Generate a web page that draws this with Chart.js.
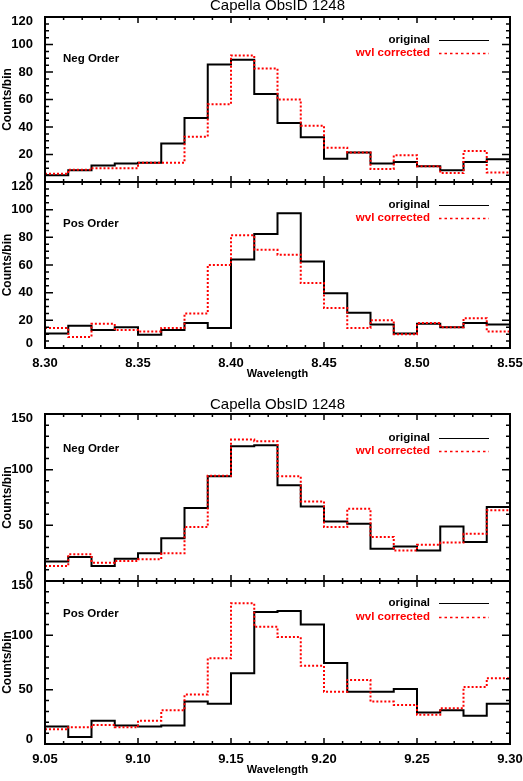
<!DOCTYPE html>
<html>
<head>
<meta charset="utf-8">
<script src="https://cdn.jsdelivr.net/npm/chart.js@4.4.1/dist/chart.umd.min.js"></script>
<style>
  body { margin: 0; background: #fff; }
  canvas { position: absolute; left: 0; top: 0; }
</style>
</head>
<body>
<canvas id="p1" width="523" height="781"></canvas>
<canvas id="p2" width="523" height="781"></canvas>
<canvas id="p3" width="523" height="781"></canvas>
<canvas id="p4" width="523" height="781"></canvas>
<script>
// bin edges (last value = right edge of last bin)
const edgesA = [8.3000, 8.3125, 8.3250, 8.3375, 8.3500, 8.3625, 8.3750, 8.3875, 8.4000, 8.4125,
                8.4250, 8.4375, 8.4500, 8.4625, 8.4750, 8.4875, 8.5000, 8.5125, 8.5250, 8.5375, 8.5500];
const edgesB = [9.0500, 9.0625, 9.0750, 9.0875, 9.1000, 9.1125, 9.1250, 9.1375, 9.1500, 9.1625,
                9.1750, 9.1875, 9.2000, 9.2125, 9.2250, 9.2375, 9.2500, 9.2625, 9.2750, 9.2875, 9.3000];

// counts per bin, top figure (8.30 - 8.55)
const negOrigA = [5, 8.5, 12, 13.5, 14, 28, 46.5, 85.5, 89, 64, 43, 32.5, 17, 21.5, 13.5, 14.5, 11.5, 8.5, 14.5, 16.5];
const negCorrA = [6, 9, 10, 10, 14, 14, 33, 56.5, 92, 82.5, 60, 41, 25, 21.5, 9.5, 19.5, 11.5, 6.5, 22.5, 7];
const posOrigA = [10.5, 16, 13, 15, 9.5, 13, 18, 14.5, 64, 82.5, 97.5, 62.5, 39.5, 25.5, 17, 10.5, 17.5, 15, 18, 17];
const posCorrA = [14.5, 8, 17.5, 13, 12, 14.5, 25, 60, 81.5, 71, 67.5, 47, 29, 14.5, 20, 10, 18, 15, 21.5, 12];

// counts per bin, bottom figure (9.05 - 9.30)
const negOrigB = [17.5, 21.5, 13.5, 20, 25, 38.5, 65.5, 94, 121, 122, 86, 67, 53.5, 51.5, 29, 31, 27.5, 49, 35, 66.5];
const negCorrB = [13.5, 24, 16.5, 18, 19.5, 25, 48.5, 94.5, 127, 125.5, 94, 71.5, 48.5, 65, 39.5, 27.5, 32.5, 34.5, 42.5, 63.5];
const posOrigB = [16, 6.5, 21.5, 17, 16, 17, 39, 37, 65, 121.5, 122.5, 110, 74.5, 48, 48, 50.5, 29, 31, 26, 37];
const posCorrB = [13.5, 15.5, 17.5, 15.5, 21.5, 31, 45.5, 79, 129.5, 108, 98.5, 72, 48, 59, 39, 36, 27, 33, 52.5, 60.5];

const titleText = 'Capella ObsID 1248';
const legendNames = ['original', 'wvl corrected'];
const FONT = 'Liberation Sans';
const RED = 'rgb(255,0,0)';

Chart.defaults.font.family = FONT;
Chart.defaults.color = '#000';

const panels = [
  { id: 'p1', edges: edgesA, orig: negOrigA, corr: negCorrA, ymax: 120, ymaj: 20, ymin: 5,
    top: 17, bottom: 182, xlab: false, title: 6, name: 'Neg Order', nameY: 59, legY: [40, 53] },
  { id: 'p2', edges: edgesA, orig: posOrigA, corr: posCorrA, ymax: 120, ymaj: 20, ymin: 5,
    top: 182, bottom: 348, xlab: true, title: null, name: 'Pos Order', nameY: 224, legY: [205, 218] },
  { id: 'p3', edges: edgesB, orig: negOrigB, corr: negCorrB, ymax: 150, ymaj: 50, ymin: 10,
    top: 414, bottom: 581, xlab: false, title: 405, name: 'Neg Order', nameY: 449, legY: [438, 451] },
  { id: 'p4', edges: edgesB, orig: posOrigB, corr: posCorrB, ymax: 150, ymaj: 50, ymin: 10,
    top: 581, bottom: 744, xlab: true, title: null, name: 'Pos Order', nameY: 614, legY: [603, 617] }
];

function steps(edges, vals) {
  return edges.map((x, i) => ({ x: x, y: vals[Math.min(i, vals.length - 1)] }));
}

// frame, inward ticks, title, panel name and legend
const decor = {
  id: 'decor',
  afterDatasetsDraw(chart, args, o) {
    const ctx = chart.ctx;
    const a = chart.chartArea;
    const xs = chart.scales.x, ys = chart.scales.y;
    ctx.save();
    ctx.setLineDash([]);
    ctx.strokeStyle = '#000';
    ctx.lineWidth = 2;
    ctx.strokeRect(a.left, a.top, a.right - a.left, a.bottom - a.top);

    ctx.lineWidth = 1.5;
    ctx.beginPath();
    const xmin = xs.min;
    for (let k = 0; k <= 25; k++) {
      const px = xs.getPixelForValue(xmin + k * 0.01);
      const len = (k % 5 === 0) ? 6 : 3;
      ctx.moveTo(px, a.bottom); ctx.lineTo(px, a.bottom - len);
      ctx.moveTo(px, a.top); ctx.lineTo(px, a.top + len);
    }
    for (let v = 0; v <= o.ymax; v += o.ymin) {
      const py = ys.getPixelForValue(v);
      const len = (v % o.ymaj === 0) ? 8 : 4;
      ctx.moveTo(a.left, py); ctx.lineTo(a.left + len, py);
      ctx.moveTo(a.right, py); ctx.lineTo(a.right - len, py);
    }
    ctx.stroke();

    ctx.textBaseline = 'middle';
    if (o.title !== null) {
      ctx.font = '15px ' + FONT;
      ctx.fillStyle = '#000';
      ctx.textAlign = 'center';
      ctx.fillText(titleText, (a.left + a.right) / 2, o.title);
    }
    ctx.font = 'bold 11.5px ' + FONT;
    ctx.fillStyle = '#000';
    ctx.textAlign = 'left';
    ctx.fillText(o.name, 63, o.nameY);

    ctx.textAlign = 'right';
    ctx.fillText(legendNames[0], 430, o.legY[0]);
    ctx.fillStyle = RED;
    ctx.fillText(legendNames[1], 430, o.legY[1]);

    ctx.lineWidth = 1.2;
    ctx.strokeStyle = '#000';
    ctx.beginPath();
    ctx.moveTo(439, o.legY[0] + 0.5);
    ctx.lineTo(489, o.legY[0] + 0.5);
    ctx.stroke();

    ctx.strokeStyle = RED;
    ctx.lineWidth = 1.5;
    ctx.setLineDash([2.5, 3]);
    ctx.beginPath();
    ctx.moveTo(439, o.legY[1] + 0.5);
    ctx.lineTo(489, o.legY[1] + 0.5);
    ctx.stroke();
    ctx.restore();
  }
};

panels.forEach(p => {
  const xh = p.xlab ? 35 : 0;
  new Chart(document.getElementById(p.id), {
    type: 'line',
    data: {
      datasets: [
        { label: legendNames[1], data: steps(p.edges, p.corr), stepped: 'before',
          borderColor: RED, borderWidth: 2, borderDash: [2, 2], pointRadius: 0, fill: false },
        { label: legendNames[0], data: steps(p.edges, p.orig), stepped: 'before',
          borderColor: '#000', borderWidth: 2, pointRadius: 0, fill: false }
      ]
    },
    options: {
      responsive: false,
      animation: false,
      devicePixelRatio: 1,
      layout: { padding: { left: 0, right: 13, top: p.top, bottom: 781 - p.bottom - xh } },
      plugins: {
        legend: { display: false },
        tooltip: { enabled: false },
        decor: { ymax: p.ymax, ymaj: p.ymaj, ymin: p.ymin, title: p.title, name: p.name, nameY: p.nameY, legY: p.legY }
      },
      scales: {
        x: {
          type: 'linear',
          min: p.edges[0],
          max: p.edges[p.edges.length - 1],
          grid: { display: false },
          border: { display: false },
          ticks: {
            display: p.xlab,
            stepSize: 0.05,
            padding: 0,
            maxRotation: 0,
            font: { size: 13, weight: 'bold' },
            callback: v => v.toFixed(2)
          },
          title: { display: p.xlab, text: 'Wavelength', font: { size: 11, weight: 'bold' }, padding: { top: 0, bottom: 2 } },
          afterFit: s => { s.height = xh; s.paddingLeft = 0; s.paddingRight = 0; }
        },
        y: {
          min: 0,
          max: p.ymax,
          grid: { display: false },
          border: { display: false },
          ticks: {
            stepSize: p.ymaj,
            padding: 4,
            font: { size: 13, weight: 'bold', lineHeight: 0.7 },
            // end labels are nudged inward, as in the original plot
            callback: v => v === 0 ? [String(v), ''] : (v === p.ymax ? ['', String(v)] : String(v))
          },
          title: { display: true, text: 'Counts/bin', font: { size: 12, weight: 'bold' }, padding: 0 },
          afterFit: s => { s.width = 45; s.paddingTop = 0; s.paddingBottom = 0; }
        }
      }
    },
    plugins: [decor]
  });
});
</script>
</body>
</html>
